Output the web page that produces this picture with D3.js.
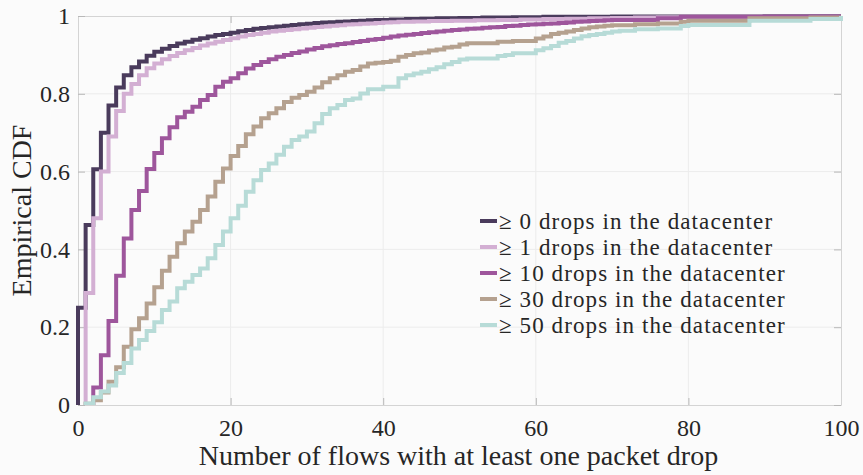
<!DOCTYPE html>
<html>
<head>
<meta charset="utf-8">
<script src="https://cdn.jsdelivr.net/npm/d3@7"></script>
<style>
  html, body { margin: 0; padding: 0; background: #fbfbfb; }
  svg { display: block; }
</style>
</head>
<body>
<svg id="chart" width="863" height="475"></svg>
<script>
// series labels, in legend order
const seriesNames = [
  '\u2265 0 drops in the datacenter',
  '\u2265 1 drops in the datacenter',
  '\u2265 10 drops in the datacenter',
  '\u2265 30 drops in the datacenter',
  '\u2265 50 drops in the datacenter'
]
const seriesColors = ['#4a3b5c', '#d3afd3', '#9e569c', '#b5a18f', '#b7dbd7']

const xTicks = [0, 20, 40, 60, 80, 100]
const yTicks = [0, 0.2, 0.4, 0.6, 0.8, 1]

// empirical CDF value at each flow count 0..100
const cdf0 = [
  0.250, 0.463, 0.606, 0.700, 0.770, 0.816, 0.848, 0.868, 0.883, 0.898,
  0.908, 0.916, 0.923, 0.929, 0.934, 0.939, 0.943, 0.947, 0.951, 0.954,
  0.957, 0.961, 0.964, 0.967, 0.969, 0.971, 0.973, 0.975, 0.977, 0.979,
  0.980, 0.982, 0.983, 0.984, 0.985, 0.986, 0.987, 0.988, 0.989, 0.990,
  0.990, 0.991, 0.991, 0.992, 0.992, 0.993, 0.993, 0.994, 0.994, 0.994,
  0.995, 0.995, 0.995, 0.996, 0.996, 0.996, 0.996, 0.997, 0.997, 0.997,
  0.997, 0.998, 0.998, 0.998, 0.998, 0.998, 0.998, 0.998, 0.998, 0.998,
  0.999, 0.999, 0.999, 0.999, 0.999, 0.999, 0.999, 0.999, 0.999, 0.999,
  0.999, 0.999, 0.999, 0.999, 0.999, 0.999, 0.999, 0.999, 0.999, 0.999,
  1.000, 1.000, 1.000, 1.000, 1.000, 1.000, 1.000, 1.000, 1.000, 1.000,
  1.000
]
const cdf1 = [
  0.000, 0.288, 0.480, 0.600, 0.690, 0.756, 0.800, 0.825, 0.848, 0.866,
  0.878, 0.889, 0.897, 0.905, 0.912, 0.918, 0.924, 0.929, 0.934, 0.938,
  0.943, 0.947, 0.951, 0.954, 0.957, 0.960, 0.962, 0.964, 0.966, 0.968,
  0.970, 0.972, 0.973, 0.975, 0.976, 0.978, 0.979, 0.980, 0.981, 0.982,
  0.983, 0.984, 0.985, 0.985, 0.986, 0.986, 0.987, 0.987, 0.987, 0.988,
  0.988, 0.988, 0.989, 0.989, 0.989, 0.990, 0.990, 0.990, 0.991, 0.991,
  0.991, 0.992, 0.992, 0.992, 0.993, 0.993, 0.993, 0.994, 0.994, 0.994,
  0.995, 0.995, 0.995, 0.996, 0.996, 0.996, 0.997, 0.997, 0.997, 0.998,
  0.998, 0.998, 0.998, 0.998, 0.998, 0.998, 0.998, 0.998, 0.998, 0.998,
  0.999, 0.999, 0.999, 0.999, 0.999, 0.999, 0.999, 0.999, 0.999, 0.999,
  1.000
]
const cdf10 = [
  0.000, 0.000, 0.045, 0.128, 0.216, 0.332, 0.428, 0.501, 0.550, 0.607,
  0.648, 0.686, 0.714, 0.740, 0.754, 0.767, 0.784, 0.797, 0.818, 0.831,
  0.840, 0.853, 0.865, 0.874, 0.882, 0.889, 0.895, 0.900, 0.905, 0.909,
  0.914, 0.918, 0.922, 0.925, 0.928, 0.930, 0.933, 0.936, 0.939, 0.941,
  0.944, 0.947, 0.950, 0.952, 0.954, 0.956, 0.958, 0.960, 0.962, 0.964,
  0.965, 0.967, 0.968, 0.970, 0.971, 0.972, 0.974, 0.975, 0.977, 0.978,
  0.979, 0.980, 0.981, 0.982, 0.983, 0.985, 0.986, 0.987, 0.988, 0.989,
  0.990, 0.990, 0.990, 0.990, 0.990, 0.990, 0.994, 0.994, 0.994, 0.998,
  0.998, 0.998, 0.998, 0.998, 0.998, 0.998, 0.998, 0.998, 0.998, 0.998,
  0.998, 0.998, 0.998, 0.998, 0.998, 0.998, 0.999, 0.999, 0.999, 0.999,
  1.000
]
const cdf30 = [
  0.000, 0.003, 0.012, 0.032, 0.060, 0.097, 0.150, 0.195, 0.223, 0.261,
  0.303, 0.345, 0.381, 0.416, 0.446, 0.471, 0.501, 0.536, 0.574, 0.608,
  0.640, 0.666, 0.696, 0.716, 0.737, 0.750, 0.763, 0.779, 0.790, 0.797,
  0.805, 0.816, 0.830, 0.840, 0.848, 0.857, 0.861, 0.870, 0.878, 0.880,
  0.882, 0.885, 0.895, 0.900, 0.904, 0.906, 0.911, 0.914, 0.919, 0.921,
  0.927, 0.930, 0.930, 0.930, 0.930, 0.934, 0.934, 0.936, 0.936, 0.936,
  0.942, 0.947, 0.954, 0.957, 0.960, 0.964, 0.968, 0.971, 0.973, 0.975,
  0.976, 0.976, 0.976, 0.979, 0.979, 0.979, 0.981, 0.981, 0.981, 0.985,
  0.988, 0.988, 0.988, 0.988, 0.988, 0.988, 0.988, 0.988, 0.994, 0.994,
  0.994, 0.994, 0.994, 0.994, 0.994, 0.994, 0.996, 0.996, 0.996, 0.996,
  1.000
]
const cdf50 = [
  0.000, 0.004, 0.020, 0.035, 0.050, 0.082, 0.108, 0.145, 0.167, 0.190,
  0.213, 0.244, 0.266, 0.300, 0.317, 0.334, 0.351, 0.377, 0.411, 0.446,
  0.480, 0.512, 0.548, 0.578, 0.604, 0.621, 0.643, 0.664, 0.681, 0.690,
  0.703, 0.724, 0.748, 0.763, 0.771, 0.784, 0.788, 0.801, 0.812, 0.812,
  0.818, 0.818, 0.840, 0.848, 0.852, 0.857, 0.863, 0.868, 0.876, 0.882,
  0.888, 0.891, 0.891, 0.891, 0.891, 0.897, 0.900, 0.904, 0.904, 0.904,
  0.912, 0.917, 0.923, 0.931, 0.936, 0.942, 0.948, 0.951, 0.954, 0.957,
  0.960, 0.962, 0.962, 0.966, 0.966, 0.966, 0.968, 0.968, 0.968, 0.974,
  0.977, 0.977, 0.977, 0.977, 0.977, 0.977, 0.977, 0.977, 0.988, 0.988,
  0.988, 0.988, 0.988, 0.988, 0.988, 0.988, 0.992, 0.992, 0.992, 0.992,
  1.000
]
const seriesValues = [cdf0, cdf1, cdf10, cdf30, cdf50]

const width = 863
const height = 475
const margin = { top: 16, right: 22, bottom: 70, left: 78 }
const innerW = width - margin.left - margin.right
const innerH = height - margin.top - margin.bottom
const serif = '"Liberation Serif", "Times New Roman", serif'
const textColor = '#262626'

const svg = d3.select('#chart')
svg.append('rect')
  .attr('width', width)
  .attr('height', height)
  .attr('fill', '#fbfbfb')

const g = svg.append('g')
  .attr('transform', `translate(${margin.left},${margin.top})`)

const x = d3.scaleLinear().domain([0, 100]).range([0, innerW])
const y = d3.scaleLinear().domain([0, 1]).range([innerH, 0])

// grid lines
g.append('g')
  .selectAll('line')
  .data(xTicks.slice(1, -1))
  .enter().append('line')
  .attr('x1', d => x(d)).attr('x2', d => x(d))
  .attr('y1', 0).attr('y2', innerH)
  .attr('stroke', '#ececec')
  .attr('stroke-width', 1)
g.append('g')
  .selectAll('line')
  .data(yTicks.slice(1, -1))
  .enter().append('line')
  .attr('x1', 0).attr('x2', innerW)
  .attr('y1', d => y(d)).attr('y2', d => y(d))
  .attr('stroke', '#ececec')
  .attr('stroke-width', 1)

// axes (ticks pointing inward, box on)
const fmt = d3.format('~g')
const styleAxis = (sel) => {
  sel.attr('font-family', null)
  sel.select('.domain').attr('stroke', '#d4d4d4')
  sel.selectAll('.tick line').attr('stroke', '#b8b8b8')
  sel.selectAll('.tick text')
    .attr('fill', textColor)
    .style('font-family', serif)
    .style('font-size', '24px')
}

g.append('g')
  .attr('transform', `translate(0,${innerH})`)
  .call(d3.axisBottom(x).tickValues(xTicks).tickFormat(fmt).tickSizeInner(-7).tickSizeOuter(0).tickPadding(14))
  .call(styleAxis)
g.append('g')
  .call(d3.axisTop(x).tickValues(xTicks).tickFormat('').tickSizeInner(-7).tickSizeOuter(0))
  .call(styleAxis)
g.append('g')
  .call(d3.axisLeft(y).tickValues(yTicks).tickFormat(fmt).tickSizeInner(-7).tickSizeOuter(0).tickPadding(8))
  .call(styleAxis)
g.append('g')
  .attr('transform', `translate(${innerW},0)`)
  .call(d3.axisRight(y).tickValues(yTicks).tickFormat('').tickSizeInner(-7).tickSizeOuter(0))
  .call(styleAxis)

// stairs
const line = d3.line()
  .x(d => x(d[0]))
  .y(d => y(d[1]))
  .curve(d3.curveStepAfter)

const clipId = 'plot-clip'
g.append('clipPath').attr('id', clipId)
  .append('rect')
  .attr('x', -3).attr('y', -3)
  .attr('width', innerW + 6).attr('height', innerH + 3)

seriesValues.forEach((vals, i) => {
  const start = vals.findIndex(v => v > 0)
  const pts = [[start, 0]].concat(vals.slice(start).map((v, k) => [start + k, v]))
  g.append('path')
    .datum(pts)
    .attr('clip-path', `url(#${clipId})`)
    .attr('fill', 'none')
    .attr('stroke', seriesColors[i])
    .attr('stroke-width', 4)
    .attr('stroke-linejoin', 'miter')
    .attr('d', line)
})

// legend
const legend = svg.append('g').attr('transform', 'translate(480,221)')
const rows = legend.selectAll('g')
  .data(seriesNames)
  .enter().append('g')
  .attr('transform', (d, i) => `translate(0,${i * 26})`)
rows.append('line')
  .attr('x1', 0).attr('x2', 17)
  .attr('y1', 0).attr('y2', 0)
  .attr('stroke', (d, i) => seriesColors[i])
  .attr('stroke-width', 4)
rows.append('text')
  .attr('x', 19)
  .attr('y', 0)
  .attr('dy', '0.35em')
  .attr('fill', textColor)
  .style('font-family', serif)
  .style('font-size', '23px')
  .style('letter-spacing', '1.1px')
  .text(d => d)

// axis titles
svg.append('text')
  .attr('x', margin.left + innerW / 2 - 1)
  .attr('y', 465)
  .attr('text-anchor', 'middle')
  .attr('fill', textColor)
  .style('font-family', serif)
  .style('font-size', '28px')
  .text('Number of flows with at least one packet drop')

svg.append('text')
  .attr('transform', `translate(31,${margin.top + innerH / 2}) rotate(-90)`)
  .attr('text-anchor', 'middle')
  .attr('fill', textColor)
  .style('font-family', serif)
  .style('font-size', '28px')
  .text('Empirical CDF')
</script>
</body>
</html>
